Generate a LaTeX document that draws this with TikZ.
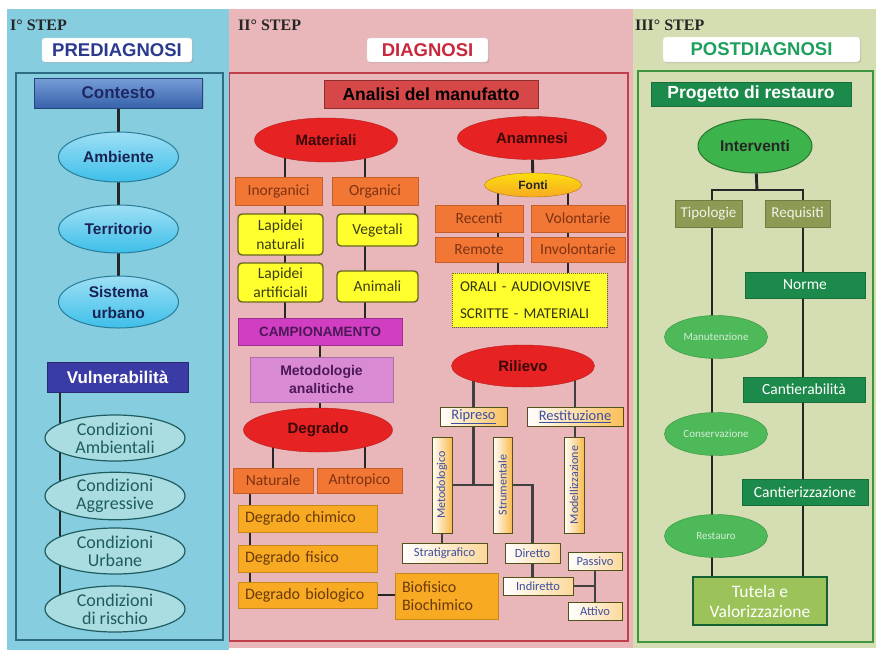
\documentclass[tikz,border=0pt]{standalone}
\usepackage{fontspec}
\setmainfont{Liberation Sans}
\newfontfamily\calib{Carlito}
\newfontfamily\serifhead{Liberation Serif}
\usetikzlibrary{shapes.geometric,shadows}
\definecolor{SkyBg}{HTML}{86CEDF}
\definecolor{SkyLine}{HTML}{2D6C82}
\definecolor{RoseBg}{HTML}{E9B6B9}
\definecolor{RoseLine}{HTML}{C13E4A}
\definecolor{SageBg}{HTML}{D5DEB2}
\definecolor{SageLine}{HTML}{3F963C}
\definecolor{Navy}{HTML}{2B3A8E}
\definecolor{Cobalt}{HTML}{3F74C8}
\definecolor{Cyan}{HTML}{3DBFEA}
\definecolor{Indigo}{HTML}{3B3BA6}
\definecolor{Aqua}{HTML}{A9DDE2}
\definecolor{DeepTeal}{HTML}{1F5C60}
\definecolor{Scarlet}{HTML}{E62222}
\definecolor{Brick}{HTML}{D64848}
\definecolor{Tangerine}{HTML}{F27634}
\definecolor{Rust}{HTML}{7E3212}
\definecolor{Lemon}{HTML}{FFFF2E}
\definecolor{Olive}{HTML}{66661E}
\definecolor{Magenta}{HTML}{D13EC2}
\definecolor{Orchid}{HTML}{D98AD3}
\definecolor{Plum}{HTML}{4C1858}
\definecolor{Amber}{HTML}{F8AA22}
\definecolor{Umber}{HTML}{6B3A0C}
\definecolor{Slate}{HTML}{3F4FA0}
\definecolor{Forest}{HTML}{1C8A4A}
\definecolor{Leaf}{HTML}{3DB34B}
\definecolor{Moss}{HTML}{8B9B53}
\definecolor{Lime}{HTML}{9BC35A}
\definecolor{Crimson}{HTML}{C9283C}
\definecolor{Jade}{HTML}{1F9F5C}
\pgfdeclarelayer{back}
\pgfdeclarelayer{wires}
\pgfsetlayers{back,wires,main}
\tikzset{
  wh/.style 2 args={minimum width=#1pt, minimum height=#2pt},
  link/.style={line width=2.9pt, draw=black!85},
  fine/.style={line width=2.1pt, draw=black!75},
  frame/.style={line width=1.4pt},
  softshadow/.style={drop shadow={opacity=0.3, shadow xshift=1.2pt, shadow yshift=-1.2pt}},
  steptag/.style={font=\serifhead\bfseries\fontsize{16}{16}\selectfont, text=black!85, anchor=west, inner sep=0pt},
  phase/.style={draw=black!12, fill=white, rounded corners=3pt, inner sep=0pt,
                font=\bfseries\fontsize{18.5}{20}\selectfont, softshadow},
  rbox/.style={rectangle, draw, inner sep=0pt, align=center},
  oval/.style={ellipse, draw, inner sep=0pt, align=center},
  % I step
  bluehead/.style={rbox, draw=Cobalt!60!black, top color=Cobalt!70!white, bottom color=Cobalt!85!black,
                   text=Navy!70!black, font=\bfseries\fontsize{17}{19}\selectfont, softshadow},
  cyanoval/.style={oval, line width=1pt, draw=Cyan!65!black, top color=Cyan!50!white, bottom color=Cyan,
                   text=Navy!60!black, font=\bfseries\fontsize{15.5}{21}\selectfont},
  indigohead/.style={rbox, draw=Indigo!70!black, fill=Indigo, text=white,
                     font=\bfseries\fontsize{17}{19}\selectfont, softshadow},
  aquaoval/.style={oval, line width=1.2pt, draw=DeepTeal, fill=Aqua, text=DeepTeal,
                   font=\calib\fontsize{18}{18}\selectfont},
  % II step
  redhead/.style={rbox, draw=Brick!65!black, fill=Brick, text=black,
                  font=\bfseries\fontsize{17.5}{19}\selectfont, softshadow},
  redoval/.style={oval, draw=Scarlet!80!black, fill=Scarlet, text=black!75!Scarlet,
                  font=\bfseries\fontsize{15}{17}\selectfont},
  orangebox/.style={rbox, draw=Tangerine!80!black, line width=0.6pt, fill=Tangerine, text=Rust,
                    font=\calib\fontsize{15.5}{18}\selectfont, softshadow},
  yellowbox/.style={rbox, draw=Olive, line width=1.4pt, rounded corners=4pt, fill=Lemon,
                    text=Olive!60!black, font=\calib\fontsize{15.5}{19}\selectfont},
  magentabox/.style={rbox, draw=Magenta!75!black, fill=Magenta, text=Plum,
                     font=\bfseries\fontsize{13.5}{15}\selectfont, softshadow},
  orchidbox/.style={rbox, draw=Orchid!80!black, fill=Orchid, text=Plum,
                    font=\bfseries\fontsize{14}{18}\selectfont, softshadow},
  amberbox/.style={rbox, draw=Amber!80!black, fill=Amber, text=Umber, align=left, inner xsep=7pt,
                   font=\calib\fontsize{16}{18.5}\selectfont, softshadow},
  fontioval/.style={oval, draw=Amber!70!black, top color=Amber!40!yellow, bottom color=Amber,
                    text=black!85, font=\bfseries\fontsize{12}{14}\selectfont},
  notebox/.style={rbox, draw=Olive, densely dotted, line width=1pt, fill=Lemon, text=Olive!50!black,
                  align=left, inner xsep=8pt, font=\calib\fontsize{15}{27}\selectfont, softshadow},
  tagbox/.style={rbox, draw=Olive!80!black, line width=1pt, left color=white, right color=Amber!45!white,
                 text=Slate, font=\calib\fontsize{12.5}{14}\selectfont},
  vtag/.style={tagbox, rotate=90, right color=Amber!80!white, font=\calib\fontsize{12}{14}\selectfont},
  % III step
  greenhead/.style={rbox, draw=Forest!80!black, fill=Forest, text=white,
                    font=\bfseries\fontsize{17.5}{19}\selectfont, softshadow},
  greenoval/.style={oval, line width=1pt, draw=Leaf!65!black, fill=Leaf, text=black!85,
                    font=\bfseries\fontsize{15.5}{17}\selectfont},
  olivebox/.style={rbox, draw=Moss!80!black, fill=Moss, text=white!88!Moss,
                   font=\calib\fontsize{15}{17}\selectfont, softshadow},
  greenbar/.style={rbox, draw=Forest!80!black, fill=Forest, text=white,
                   font=\calib\fontsize{15.5}{17}\selectfont, softshadow},
  leafoval/.style={oval, draw=Leaf!80!black, fill=Leaf!92!white, text=Leaf!22!white,
                   font=\calib\fontsize{11}{13}\selectfont},
  limebox/.style={rbox, draw=Forest!70!black, line width=1.6pt, fill=Lime, text=white,
                  font=\calib\fontsize{17.5}{20}\selectfont},
}

\begin{document}
\begin{tikzpicture}[x=1pt, y=-1pt]
  \useasboundingbox (0,0) rectangle (877,654);
  \begin{pgfonlayer}{back}
    \fill[white] (0,0) rectangle (877,654);
    \fill[SkyBg] (7,9) rectangle (229,650);
    \fill[RoseBg] (229,9) rectangle (633,648);
    \fill[SageBg] (633,9) rectangle (876,648);
    \draw[frame, SkyLine] (16,73) rectangle (223,640);
    \draw[frame, RoseLine] (229.5,73) rectangle (628,641);
    \draw[frame, SageLine] (638,71) rectangle (873,642);
  \end{pgfonlayer}

  % I step: prediagnosi
  \node[steptag] (step1) at (10,25) {I° STEP};
  \node[phase, text=Navy, wh={150}{24}] (pre) at (117,50) {PREDIAGNOSI};
  \node[bluehead, wh={168}{30}] (contesto) at (118.5,93) {Contesto};
  \node[cyanoval, wh={120}{50}] (ambiente) at (118.5,157) {Ambiente};
  \node[cyanoval, wh={120}{48}] (territorio) at (118.5,229) {Territorio};
  \node[cyanoval, wh={120}{52}] (sistema) at (118.5,302) {Sistema\\urbano};
  \node[indigohead, wh={141}{30}] (vulner) at (117.5,377) {Vulnerabilità};
  \node[aquaoval, wh={140}{46}] (cond1) at (115,438) {Condizioni\\Ambientali};
  \node[aquaoval, wh={140}{46}] (cond2) at (115,496) {Condizioni\\Aggressive};
  \node[aquaoval, wh={140}{46}] (cond3) at (115,551) {Condizioni\\Urbane};
  \node[aquaoval, wh={140}{46}] (cond4) at (115,609) {Condizioni\\di rischio};
  \coordinate (vulnEnd) at (60,600);

  % II step: diagnosi
  \node[steptag] (step2) at (238,25) {II° STEP};
  \node[phase, text=Crimson, wh={121}{24}] (dia) at (427.5,50) {DIAGNOSI};
  \node[redhead, wh={214}{28}] (analisi) at (431,94) {Analisi del manufatto};
  \node[redoval, wh={143}{44}] (materiali) at (326,140) {Materiali};
  \node[orangebox, wh={87}{28}] (inorg) at (278.5,191) {Inorganici};
  \node[orangebox, wh={86}{28}] (org) at (375,191) {Organici};
  \node[yellowbox, wh={85}{41}] (lapnat) at (280.5,234.5) {Lapidei\\naturali};
  \node[yellowbox, wh={81}{32}] (veget) at (377.5,230) {Vegetali};
  \node[yellowbox, wh={85}{39}] (lapart) at (280.5,282.5) {Lapidei\\artificiali};
  \node[yellowbox, wh={81}{31}] (animali) at (377.5,286.5) {Animali};
  \node[magentabox, wh={164}{27}] (campion) at (320,331.5) {CAMPIONAMENTO};
  \node[orchidbox, wh={143}{45}] (metod) at (321.5,379.5) {Metodologie\\analitiche};
  \node[redoval, wh={149}{44}] (degrado) at (318,430) {Degrado};
  \node[orangebox, wh={80}{25}] (natur) at (273,480.5) {Naturale};
  \node[orangebox, wh={85}{25}] (antrop) at (359.5,480.5) {Antropico};
  \node[amberbox, wh={139}{27}, text width=125pt] (dchim) at (307.5,518.5) {Degrado chimico};
  \node[amberbox, wh={139}{27}, text width=125pt] (dfis) at (307.5,558.5) {Degrado fisico};
  \node[amberbox, wh={139}{26}, text width=125pt] (dbio) at (307.5,595) {Degrado biologico};
  \node[amberbox, wh={103}{46}, text width=89pt] (biofis) at (446.5,596) {Biofisico\\Biochimico};

  \node[redoval, wh={149}{43}] (anamnesi) at (532,138) {Anamnesi};
  \node[fontioval, wh={97}{24}] (fonti) at (533,185) {Fonti};
  \node[orangebox, wh={88}{27}] (recenti) at (479,218.5) {Recenti};
  \node[orangebox, wh={94}{27}] (volont) at (578,218.5) {Volontarie};
  \node[orangebox, wh={88}{25}] (remote) at (479,249.5) {Remote};
  \node[orangebox, wh={94}{25}] (involont) at (578,249.5) {Involontarie};
  \node[notebox, wh={155}{54}, text width=139pt] (orali) at (529.5,300) {ORALI - AUDIOVISIVE\\SCRITTE - MATERIALI};

  \node[redoval, wh={143}{42}] (rilievo) at (523,366) {Rilievo};
  \node[tagbox, wh={67}{19}, right color=Amber!75!white, font=\calib\fontsize{14.5}{16}\selectfont] (ripreso) at (473.5,416.5) {\underline{Ripreso}};
  \node[tagbox, wh={96}{19}, right color=Amber!75!white, font=\calib\fontsize{14.5}{16}\selectfont] (restit) at (575,416.5) {\underline{Restituzione}};
  \node[vtag, wh={96}{20}] (metodol) at (442,485) {Metodologico};
  \node[vtag, wh={96}{19}] (strum) at (502.5,485) {Strumentale};
  \node[vtag, wh={96}{20}] (modell) at (574,485) {Modellizzazione};
  \node[tagbox, wh={85}{20}] (strat) at (444.5,553) {Stratigrafico};
  \node[tagbox, wh={55}{20}] (diretto) at (532.5,553) {Diretto};
  \node[tagbox, wh={70}{18}] (indiretto) at (538,586) {Indiretto};
  \node[tagbox, wh={54}{18}] (passivo) at (595,561) {Passivo};
  \node[tagbox, wh={54}{18}] (attivo) at (595,611) {Attivo};
  \coordinate (inTrunk) at (285,0);
  \coordinate (orTrunk) at (365,0);
  \coordinate (natTrunk) at (250,0);
  \coordinate (ftA) at (498,0);
  \coordinate (ftB) at (568,0);

  % III step: postdiagnosi
  \node[steptag] (step3) at (635,25) {III° STEP};
  \node[phase, text=Jade, wh={197}{25}] (post) at (761.5,49.5) {POSTDIAGNOSI};
  \node[greenhead, wh={200}{24}] (progetto) at (751,94) {Progetto di restauro};
  \node[greenoval, wh={114}{54}] (interventi) at (755,146) {Interventi};
  \node[olivebox, wh={67}{27}] (tipol) at (708.5,213.5) {Tipologie};
  \node[olivebox, wh={65}{27}] (requis) at (797.5,213.5) {Requisiti};
  \node[greenbar, wh={120}{26}] (norme) at (805,285) {Norme};
  \node[leafoval, wh={103}{43}] (manut) at (716,337) {Manutenzione};
  \node[greenbar, wh={122}{25}] (cantab) at (804,389.5) {Cantierabilità};
  \node[leafoval, wh={103}{43}] (conserv) at (716,434) {Conservazione};
  \node[greenbar, wh={126}{26}] (cantiz) at (805,492) {Cantierizzazione};
  \node[leafoval, wh={103}{43}] (restauro) at (716,536) {Restauro};
  \node[limebox, wh={134}{48}] (tutela) at (760,601) {Tutela e\\Valorizzazione};
  \coordinate (fork) at (757,190);
  \coordinate (tipTrunk) at (712,0);
  \coordinate (reqTrunk) at (803,0);

  \begin{pgfonlayer}{wires}
    \draw[link] (contesto) -- (sistema);
    \draw[link] (vulner.south -| vulnEnd) -- (vulnEnd);
    \draw[link] (inTrunk |- materiali.center) -- (inTrunk |- campion.center);
    \draw[link] (orTrunk |- materiali.center) -- (orTrunk |- campion.center);
    \draw[link] (campion.center) -- (campion.center |- degrado.center);
    \draw[link] (natur.center |- degrado.center) -- (natur.center);
    \draw[link] (orTrunk |- degrado.center) -- (orTrunk |- antrop.center);
    \draw[link] (natTrunk |- natur.center) -- (natTrunk |- dbio.center);
    \draw[link] (dbio.east) -- (dbio.east -| biofis.west);
    \draw[link] (anamnesi) -- (fonti);
    \draw[link] (ftA |- fonti.center) -- (ftA |- orali.center);
    \draw[link] (ftB |- fonti.center) -- (ftB |- orali.center);
    \draw[fine] (rilievo.center -| ripreso.center) -- (ripreso.center |- metodol.center);
    \draw[fine] (metodol.center) -- (strum.center);
    \draw[fine] (strum.center) -| (diretto.center);
    \draw[fine] (metodol.center) -- (metodol.center |- strat.center);
    \draw[fine] (rilievo.center -| restit.center) -- (restit.center |- modell.center);
    \draw[fine] (diretto.center) -- (diretto.center |- indiretto.center);
    \draw[fine] (indiretto.center) -| (passivo.center);
    \draw[fine] (passivo.center) -- (attivo.center);
    \draw[link] (interventi) -- (fork);
    \draw[link] (tipTrunk |- tipol.center) |- (fork) -| (reqTrunk |- requis.center);
    \draw[link] (tipTrunk |- tipol.center) -- (tipTrunk |- tutela.center);
    \draw[link] (reqTrunk |- requis.center) -- (reqTrunk |- tutela.center);
  \end{pgfonlayer}
\end{tikzpicture}
\end{document}
